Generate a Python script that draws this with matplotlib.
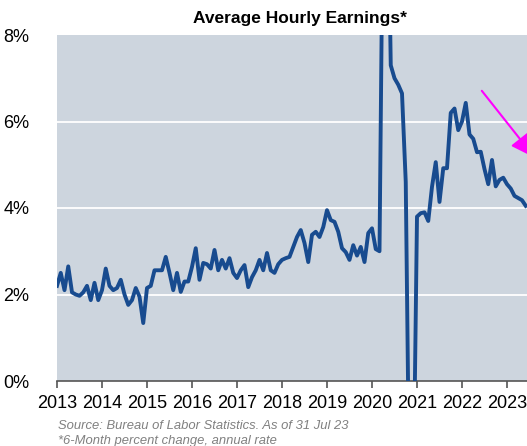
import numpy as np
import matplotlib.pyplot as plt

# 6-month percent change, annual rate (monthly, from Jan 2013)
ahe = [2.2, 2.5, 2.1, 2.65, 2.05, 2.0, 1.97, 2.05, 2.2, 1.87, 2.27, 1.87,
       2.1, 2.6, 2.2, 2.1, 2.15, 2.34, 2.0, 1.76, 1.87, 2.15, 1.95, 1.34,
       2.15, 2.2, 2.56, 2.56, 2.56, 2.87, 2.5, 2.1, 2.5, 2.06, 2.3, 2.3,
       2.64, 3.07, 2.34, 2.73, 2.7, 2.6, 3.03, 2.56, 2.8, 2.6, 2.84, 2.5,
       2.38, 2.56, 2.68, 2.17, 2.4, 2.56, 2.8, 2.56, 2.96, 2.56, 2.5, 2.7,
       2.8, 2.84, 2.87, 3.1, 3.33, 3.49, 3.19, 2.75, 3.38, 3.45, 3.33, 3.56,
       3.95, 3.72, 3.68, 3.45, 3.07, 2.98, 2.8, 3.14, 2.9, 3.1, 2.75, 3.42,
       3.53, 3.05, 3.0, 12.0, 13.0, 7.3, 7.0, 6.85, 6.65, 4.6, -3.0, -3.0,
       3.8, 3.88, 3.9, 3.7, 4.49, 5.06, 4.14, 4.92, 4.92, 6.2, 6.3, 5.8,
       6.0, 6.43, 5.7, 5.6, 5.29, 5.3, 4.9, 4.55, 5.11, 4.5, 4.65, 4.7,
       4.55, 4.45, 4.28, 4.23, 4.18, 4.05]
years = list(range(2013, 2024))
yticks = [0, 2, 4, 6, 8]

x = 2013 + np.arange(len(ahe)) / 12.0

plt.rcParams['font.family'] = ['Liberation Sans', 'DejaVu Sans']

fig = plt.figure(figsize=(5.27, 4.46), dpi=100)
ax = fig.add_axes([57/527, 1 - 381/446, 1 - 57/527, (381 - 35)/446])
ax.set_facecolor('#cdd5de')

for v in yticks[1:-1]:
    ax.axhline(v, color='white', lw=1.3, zorder=1)

ax.plot(x, ahe, color='#184b8f', lw=2.8, zorder=3, solid_joinstyle='round')

ax.set_xlim(2013, 2013 + 470/45)
ax.set_ylim(0, 8)
ax.set_xticks(years)
ax.set_xticklabels([str(y) for y in years], fontsize=13)
ax.set_yticks(yticks)
ax.set_yticklabels(['%d%%' % v for v in yticks], fontsize=13)
ax.tick_params(axis='y', length=0, pad=20)
ax.tick_params(axis='x', length=5, width=1.2, color='#555555', pad=5)
for s in ['top', 'right', 'left']:
    ax.spines[s].set_visible(False)
ax.spines['bottom'].set_color('#555555')
ax.spines['bottom'].set_linewidth(1.2)

# pink arrow pointing down-right (head cut off by the edge)
ax.annotate('', xy=(2023.62, 5.16), xytext=(2022.44, 6.71),
            arrowprops=dict(arrowstyle='-|>,head_length=0.75,head_width=0.35',
                            color='#ff00ff', lw=1.5, mutation_scale=20,
                            shrinkA=0, shrinkB=0),
            annotation_clip=False, zorder=5)

fig.text(300/527, 1 - 18/446, 'Average Hourly Earnings*', fontsize=12.5,
         fontweight='bold', ha='center', va='center')
fig.text(58/527, 1 - 426/446, 'Source: Bureau of Labor Statistics. As of 31 Jul 23',
         fontsize=9.4, style='italic', color='#808080', va='center')
fig.text(58/527, 1 - 441/446, '*6-Month percent change, annual rate',
         fontsize=9.4, style='italic', color='#808080', va='center')

fig.savefig('out.png', dpi=100)
